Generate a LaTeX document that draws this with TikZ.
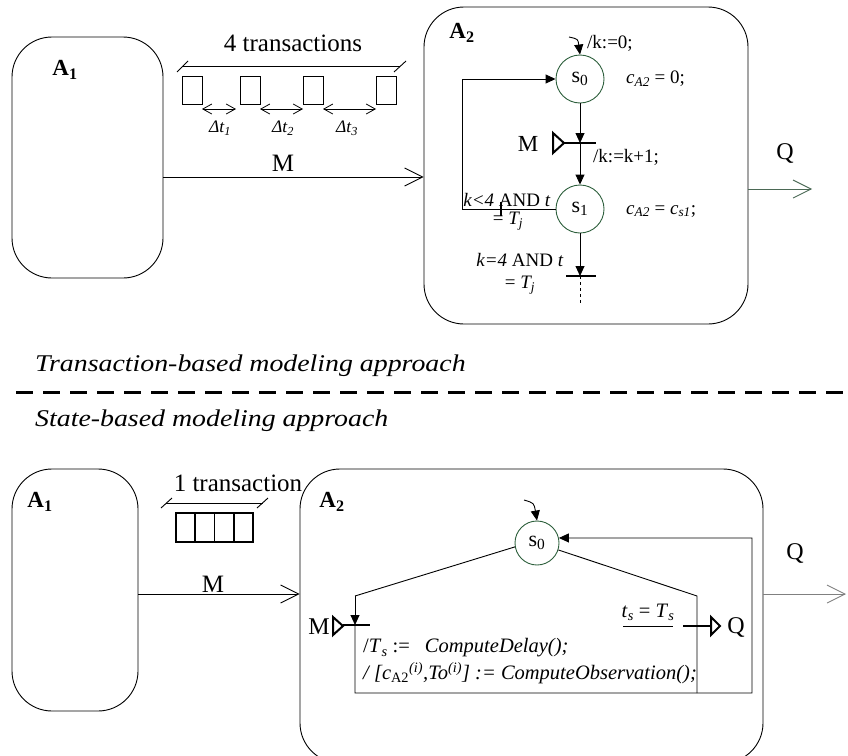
\documentclass[tikz,border=0pt]{standalone}
\usepackage{fontspec}
\setmainfont{Liberation Serif}
\usepackage{graphicx}
\usetikzlibrary{arrows.meta}
\definecolor{stgreen}{RGB}{45,95,60}
\definecolor{lgreen}{RGB}{75,105,85}
\newcommand{\fsz}[1]{\fontsize{#1}{#1}\selectfont}
\begin{document}
\begin{tikzpicture}[x=1pt,y=-1pt,
  abox/.style={draw,line width=0.9pt,rounded corners=40pt,inner sep=0pt},
  st/.style={draw=stgreen,line width=0.9pt,circle,inner sep=0pt,font=\fsz{22}},
  ln/.style={line width=0.9pt},
  fa/.style={ln,-{Triangle[length=10pt,width=9pt]}},
  oa/.style={ln,-{Straight Barb[length=18pt,width=18pt,line width=0.9pt]}},
  da/.style={line width=0.8pt,{Straight Barb[length=9pt,width=10pt,line width=0.8pt]}-{Straight Barb[length=9pt,width=10pt,line width=0.8pt]}},
  tbar/.style={line width=2.6pt},
  tri/.style={line width=2pt,line join=miter},
  lbl/.style={inner sep=0pt,font=\fsz{19}},
  blbl/.style={inner sep=0pt,font=\fsz{20.5}},
  big/.style={inner sep=0pt,font=\fsz{25}},
  alab/.style={inner sep=0pt,font=\fsz{23}\bfseries},
  hdr/.style={inner sep=0pt,anchor=west,font=\fsz{24}\itshape},
  pkt/.style={draw,line width=0.9pt,minimum width=20pt,minimum height=28pt,inner sep=0pt},
]
\useasboundingbox (0,0) rectangle (848,755);
\clip (0,0) rectangle (848,755);
% ================= top =================
\node[abox,minimum width=151pt,minimum height=241pt] (A1t) at (87.5,157.5) {};
\node[abox,minimum width=324pt,minimum height=317pt] (A2t) at (586,165.5) {};
\node[alab] (A1tl) at (65,70) {A\textsubscript{1}};
\node[alab] (A2tl) at (462,33) {A\textsubscript{2}};
\node[big] (tr4) at (293,43) {4 transactions};
\draw[ln] (182,66) -- (400,66);
\draw[ln] (177,72) -- (188,61);
\draw[ln] (394,72) -- (406,61);
\node[pkt] (p1) at (192,90) {};
\node[pkt] (p2) at (250,90) {};
\node[pkt] (p3) at (313,90) {};
\node[pkt] (p4) at (386,90) {};
\coordinate (d1a) at (202,109); \coordinate (d1b) at (236,109);
\coordinate (d2a) at (260,109); \coordinate (d2b) at (303,109);
\coordinate (d3a) at (323,109); \coordinate (d3b) at (376,109);
\draw[da] (d1a) -- (d1b);
\draw[da] (d2a) -- (d2b);
\draw[da] (d3a) -- (d3b);
\node[inner sep=0pt,font=\fsz{17.5}\itshape] (dt1) at (220,128) {Δt\textsubscript{1}};
\node[inner sep=0pt,font=\fsz{17.5}\itshape] (dt2) at (283,128) {Δt\textsubscript{2}};
\node[inner sep=0pt,font=\fsz{17.5}\itshape] (dt3) at (347,128) {Δt\textsubscript{3}};
\node[big] (Mt) at (283,163) {M};
\coordinate (mt) at (163,177);
\draw[oa] (mt) -- (mt -| A2t.west);
% states
\node[st,minimum size=48pt] (s0t) at (580,79) {s\textsubscript{0}};
\node[st,minimum size=48pt] (s1t) at (580,209) {s\textsubscript{1}};
\coordinate (i0t) at (569,37);
\draw[fa] (i0t) .. controls (578,39) .. (s0t.north);
\coordinate (t1) at (580,143);
\draw[fa] (s0t) -- (t1);
\draw[tbar] (564,143) -- (596,143);
\draw[tri] (553,133) -- (564,143) -- (553,153) -- cycle;
\draw[fa] (t1) -- (s1t);
\coordinate (lp) at (462,79);
\draw[fa] (s1t.west) -| (lp) -- (s0t.west);
\draw[line width=2.4pt] (501,202) -- (501,216);
\coordinate (t2) at (580,276);
\coordinate (t2e) at (580,305);
\draw[fa] (s1t) -- (t2);
\draw[tbar] (566,276) -- (596,276);
\draw[ln,dash pattern=on 3pt off 3pt] (t2) -- (t2e);
\node[lbl,anchor=west] (k0) at (587,43) {/k:=0;};
\node[lbl,anchor=west] (c0) at (626,79) {\textit{c}\textsubscript{\textit{A2}} = 0;};
\node[inner sep=0pt,font=\fsz{23}] (Mt2) at (528,144) {M};
\node[lbl,anchor=west] (kk) at (593,157) {/k:=k+1;};
\node[lbl] (g1a) at (507,200) {\textit{k<4} AND \textit{t}};
\node[lbl] (g1b) at (508,221) {= \textit{T\textsubscript{j}}};
\node[lbl] (g2a) at (520,260) {\textit{k=4} AND \textit{t}};
\node[lbl] (g2b) at (520,285) {= \textit{T\textsubscript{j}}};
\node[lbl,anchor=west] (c1) at (626,211) {\textit{c}\textsubscript{\textit{A2}} = \textit{c}\textsubscript{\textit{s1}};};
\node[inner sep=0pt,font=\fsz{24}] (Qt) at (785,153) {Q};
\coordinate (qt) at (812,189);
\draw[oa,draw=lgreen] (A2t.east |- qt) -- (qt);
% ================= middle =================
\node[hdr] (h1) at (35,366) {\scalebox{1.16}[1]{Transaction-based modeling approach}};
\coordinate (dl) at (16,392.5); \coordinate (dr) at (848,392.5);
\draw[line width=2.3pt,dash pattern=on 17pt off 10pt] (dl) -- (dr);
\node[hdr] (h2) at (35,421) {\scalebox{1.16}[1]{State-based modeling approach}};
% ================= bottom =================
\node[abox,minimum width=126pt,minimum height=242pt] (A1b) at (75,590) {};
\node[abox,minimum width=463pt,minimum height=294pt] (A2b) at (531.5,616) {};
\node[alab] (A1bl) at (40,502) {A\textsubscript{1}};
\node[alab] (A2bl) at (332,502) {A\textsubscript{2}};
\node[big] (tr1) at (238,483) {1 transaction};
\draw[ln] (166,503) -- (263,503);
\draw[ln] (161,508) -- (172,498);
\draw[ln] (257,508) -- (268,498);
\node[draw,line width=1.3pt,minimum width=77pt,minimum height=29pt,inner sep=0pt] (qbox) at (214.5,527.5) {};
\draw[line width=1.3pt] (195,513) -- (195,542) (214.5,513) -- (214.5,542) (234,513) -- (234,542);
\node[big] (Mb) at (213,584) {M};
\coordinate (mb) at (138,594);
\draw[oa] (mb) -- (mb -| A2b.west);
\node[st,minimum size=44pt] (s0b) at (537,543) {s\textsubscript{0}};
\coordinate (i0b) at (524,500);
\draw[fa] (i0b) .. controls (534,503) .. (s0b.north);
\coordinate (lb1) at (355,596);
\coordinate (tb1) at (355,625);
\draw[ln] (s0b.190) -- (lb1);
\draw[fa] (lb1) -- (tb1);
\draw[tbar] (343,625) -- (370,625);
\draw[tri] (333,617) -- (343,626) -- (333,635) -- cycle;
\node[inner sep=0pt,font=\fsz{24}] (Mb2) at (319,627) {M};
\coordinate (rb1) at (355,693);
\coordinate (rb2) at (752,693);
\coordinate (rb3) at (752,538);
\draw[fa] (tb1) -- (rb1) -- (rb2) -- (rb3) -- (s0b.13);
\coordinate (rr1) at (697,596);
\coordinate (rr2) at (697,693);
\draw[ln] (s0b.-18) -- (rr1) -- (rr2);
\draw[tbar] (683,626) -- (711,626);
\draw[tri] (711,617) -- (720,626) -- (711,635) -- cycle;
\node[inner sep=0pt,font=\fsz{24}] (Qb2) at (736,627) {Q};
\node[blbl] (ts) at (648,612) {\textit{t}\textsubscript{\textit{s}} = \textit{T}\textsubscript{\textit{s}}};
\draw[ln] (623,626) -- (673,626);
\node[blbl,anchor=west] (cd) at (363,648) {/\textit{T}\textsubscript{\textit{s}} :=\hspace{15pt}\textit{ComputeDelay();}};
\node[blbl,anchor=west] (co) at (363,673) {\textit{/ [c}\textsubscript{A2}\textsuperscript{\textit{(i)}}\textit{,To}\textsuperscript{\textit{(i)}}\textit{] := ComputeObservation();}};
\node[inner sep=0pt,font=\fsz{24}] (Qb) at (795,553) {Q};
\coordinate (qb) at (846,594);
\draw[oa,draw=gray] (A2b.east |- qb) -- (qb);
\end{tikzpicture}
\end{document}
